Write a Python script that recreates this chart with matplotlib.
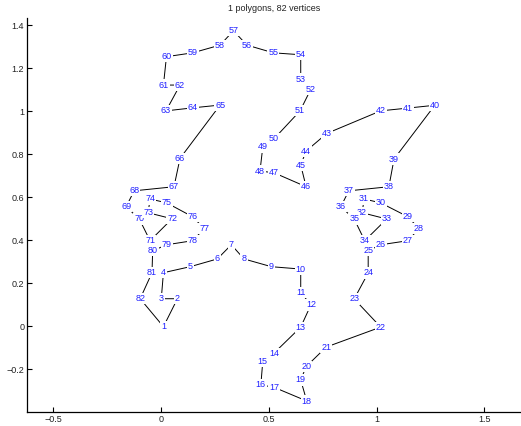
import matplotlib
matplotlib.use("Agg")
import matplotlib.pyplot as plt

# polygon vertices (vertex n is index n-1)
xs = [0.011, 0.076, 0.001, 0.011, 0.135, 0.261, 0.326, 0.385, 0.512, 0.648,
      0.648, 0.695, 0.648, 0.524, 0.472, 0.463, 0.524, 0.676, 0.648, 0.673,
      0.766, 1.019, 0.896, 0.961, 0.961, 1.019, 1.146, 1.196, 1.146, 1.019,
      0.942, 0.933, 1.047, 0.945, 0.896, 0.834, 0.871, 1.057, 1.081, 1.270,
      1.146, 1.019, 0.769, 0.673, 0.648, 0.673, 0.524, 0.459, 0.472, 0.524,
      0.645, 0.695, 0.648, 0.648, 0.521, 0.398, 0.336, 0.274, 0.147, 0.025,
      0.011, 0.088, 0.023, 0.147, 0.274, 0.088, 0.060, -0.125, -0.162, -0.101,
      -0.051, 0.051, -0.060, -0.051, 0.026, 0.147, 0.200, 0.147, 0.026, -0.039,
      -0.042, -0.097]
ys = [-0.003, 0.127, 0.127, 0.248, 0.276, 0.312, 0.378, 0.312, 0.276, 0.265,
      0.157, 0.098, -0.005, -0.126, -0.163, -0.274, -0.285, -0.349, -0.251, -0.189,
      -0.098, -0.005, 0.126, 0.247, 0.350, 0.378, 0.397, 0.453, 0.508, 0.573,
      0.591, 0.527, 0.498, 0.397, 0.498, 0.555, 0.629, 0.648, 0.777, 1.027,
      1.014, 1.001, 0.896, 0.814, 0.749, 0.648, 0.713, 0.721, 0.833, 0.871,
      1.001, 1.102, 1.149, 1.262, 1.271, 1.307, 1.374, 1.307, 1.271, 1.253,
      1.121, 1.121, 1.001, 1.015, 1.028, 0.780, 0.648, 0.629, 0.555, 0.498,
      0.397, 0.499, 0.527, 0.591, 0.573, 0.508, 0.453, 0.397, 0.378, 0.350,
      0.248, 0.127]

xticks = [-0.5, 0, 0.5, 1, 1.5]
xticklabels = ["\u22120.5", "0", "0.5", "1", "1.5"]
yticks = [-0.2, 0, 0.2, 0.4, 0.6, 0.8, 1, 1.2, 1.4]
yticklabels = ["\u22120.2", "0", "0.2", "0.4", "0.6", "0.8", "1", "1.2", "1.4"]

plt.rcParams['font.family'] = ['Liberation Sans', 'DejaVu Sans']

fig = plt.figure(figsize=(5.21, 4.26), dpi=100)
ax = fig.add_axes([27/521, 14/426, 1 - 27/521, 394/426])

# closed polygon
ax.plot(xs + xs[:1], ys + ys[:1], color="black", linewidth=0.7, zorder=1)

for i, (x, y) in enumerate(zip(xs, ys)):
    ax.text(x, y, str(i + 1), color="#2020ff", fontsize=6.5,
            ha="center", va="center", zorder=2,
            bbox=dict(facecolor="white", edgecolor="none", pad=0.8))

ax.set_xlim(-0.622, 1.67)
ax.set_ylim(-0.4, 1.433)
ax.set_xticks(xticks)
ax.set_xticklabels(xticklabels)
ax.set_yticks(yticks)
ax.set_yticklabels(yticklabels)
ax.tick_params(direction="in", length=3.5, width=0.8, labelsize=6.5,
               colors="black", labelcolor="#222222", pad=2)
ax.spines["top"].set_visible(False)
ax.spines["right"].set_visible(False)
ax.spines["left"].set_linewidth(0.9)
ax.spines["bottom"].set_linewidth(0.9)
ax.set_title("1 polygons, 82 vertices", fontsize=6.5, color="#222222", pad=5)

fig.savefig("out.png", dpi=100)
